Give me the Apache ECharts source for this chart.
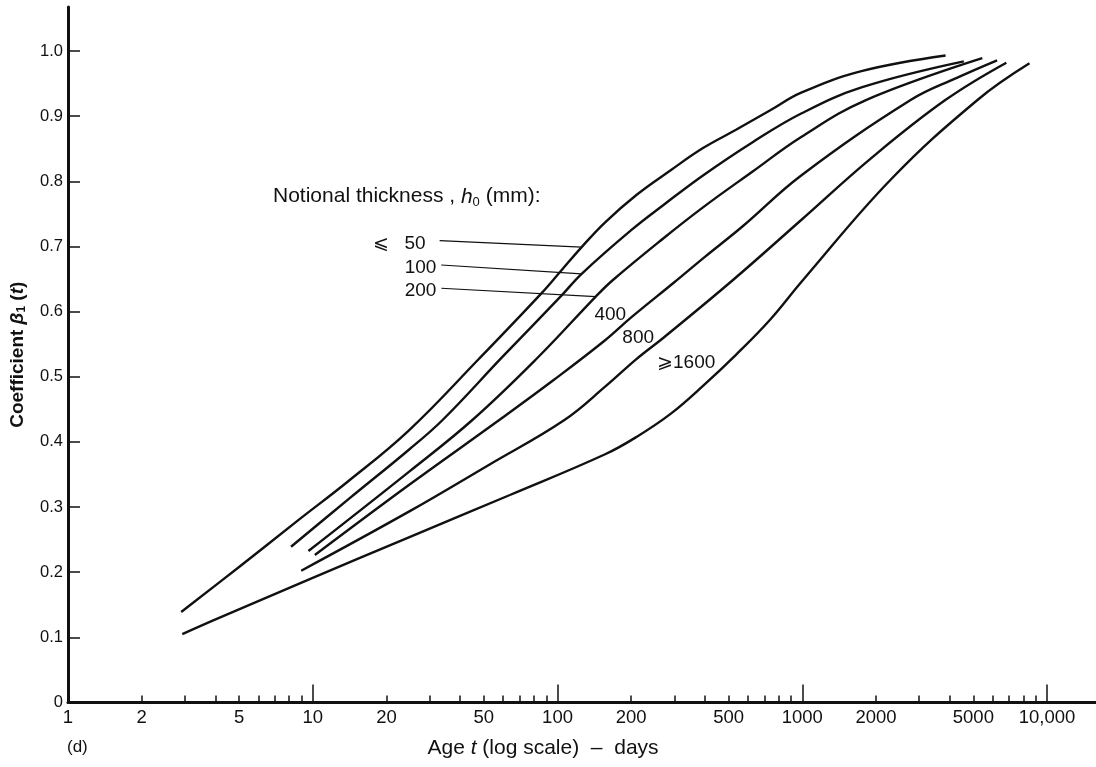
<!DOCTYPE html>
<html><head><meta charset="utf-8">
<script src="https://cdn.jsdelivr.net/npm/echarts@6/dist/echarts.min.js"></script>
<style>html,body{margin:0;padding:0;background:#fff}#c{width:1096px;height:767px}</style>
</head><body><div id="c"></div>
<script>
// ---- data (age t in days, coefficient beta1(t)) ----
const curveNames = ['⩽50', '100', '200', '400', '800', '⩾1600'];
const t50   = [2.9, 5, 8.6, 14, 24.6, 47.9, 85.9, 103, 125.5, 156.5, 210, 290, 393, 536, 740, 990, 1745, 3850];
const v50   = [0.139, 0.208, 0.278, 0.340, 0.417, 0.528, 0.628, 0.662, 0.699, 0.737, 0.779, 0.817, 0.851, 0.879, 0.909, 0.936, 0.969, 0.993];
const t100  = [8.15, 14.2, 24.7, 34, 59.4, 103.5, 125.5, 200, 271.8, 393, 627, 990, 1745, 4570];
const v100  = [0.239, 0.314, 0.388, 0.434, 0.530, 0.624, 0.658, 0.725, 0.764, 0.809, 0.860, 0.904, 0.944, 0.984];
const t200  = [9.6, 24.7, 45, 82.3, 143.3, 168.4, 271.8, 393, 627, 990, 1830, 5440];
const v200  = [0.2325, 0.354, 0.434, 0.528, 0.623, 0.6485, 0.713, 0.760, 0.815, 0.868, 0.925, 0.989];
const t400  = [10.2, 24.7, 57.8, 96.4, 156.5, 200, 300, 400, 571, 990, 2781, 4234, 6250];
const v400  = [0.2264, 0.3338, 0.4336, 0.495, 0.556, 0.591, 0.645, 0.684, 0.731, 0.809, 0.925, 0.958, 0.9857];
const t800  = [8.97, 24.7, 52.6, 106.7, 156.5, 210, 271.8, 521, 990, 1919, 3853, 6819];
const v800  = [0.2023, 0.2929, 0.365, 0.4336, 0.4847, 0.527, 0.5603, 0.6485, 0.7406, 0.836, 0.925, 0.982];
const t1600 = [2.93, 4.03, 9.83, 24.7, 63.9, 156.5, 211, 289.6, 393, 537, 737, 1007, 2311, 5197, 8477];
const v1600 = [0.105, 0.128, 0.19, 0.2536, 0.3185, 0.381, 0.408, 0.443, 0.486, 0.534, 0.5871, 0.6485, 0.8035, 0.9248, 0.981];

// ---- ticks ----
const xTickLabels = [1, 2, 5, 10, 20, 50, 100, 200, 500, 1000, 2000, 5000, 10000];
const xMinorTicks = [2,3,4,5,6,7,8,9, 20,30,40,50,60,70,80,90, 200,300,400,500,600,700,800,900, 2000,3000,4000,5000,6000,7000,8000,9000];
const xMajorTicks = [10, 100, 1000, 10000];
const yTicks = [0, 0.1, 0.2, 0.3, 0.4, 0.5, 0.6, 0.7, 0.8, 0.9, 1.0];

// ---- annotations (anchored in data coordinates) ----
const annoText  = ['Notional thickness , {i|h}{s|0} (mm):', '⩽   50', '100', '200', '400', '800', '⩾1600'];
const annoAt    = [[6.88, 0.7764], [28.9, 0.7048], [32.0, 0.668], [32.0, 0.632], [141.5, 0.5948], [184, 0.5605], [255, 0.5222]];
const annoAlign = ['left', 'right', 'right', 'right', 'left', 'left', 'left'];
const leaderFrom = [[33.0, 0.7088], [33.5, 0.6715], [33.5, 0.6358]];
const leaderTo   = [[125.5, 0.699], [125.5, 0.658], [143.3, 0.623]];

const FONT = '"Liberation Sans", Arial, Helvetica, sans-serif';
const INK = '#111';
const zip = (a, b) => a.map((x, i) => [x, b[i]]);
const curves = [[t50, v50], [t100, v100], [t200, v200], [t400, v400], [t800, v800], [t1600, v1600]];

const chart = echarts.init(document.getElementById('c'), null, {renderer: 'canvas'});

const lineSeries = curves.map((c, i) => ({
  name: curveNames[i], type: 'line', xAxisIndex: 0, yAxisIndex: 0,
  data: zip(c[0], c[1]), smooth: 0.4,
  showSymbol: false, symbol: 'none', silent: true,
  lineStyle: {color: INK, width: 2.4}
}));

chart.setOption({
  animation: false,
  backgroundColor: '#fff',
  textStyle: {fontFamily: FONT, color: INK},
  grid: {left: 68, right: 0, top: 7, bottom: 64.5, containLabel: false, outerBoundsMode: 'none'},
  xAxis: [{
    type: 'log', logBase: 10, min: 1, max: 15850,
    axisLine: {onZero: false, lineStyle: {color: INK, width: 3}},
    axisTick: {show: true, inside: true, length: 7, customValues: xMinorTicks, lineStyle: {color: INK, width: 1.5}},
    axisLabel: {customValues: xTickLabels, fontSize: 18.5, color: INK, margin: 6, fontFamily: FONT,
      formatter: v => { const r = Math.round(v); return r === 10000 ? '10,000' : String(r); }},
    splitLine: {show: false}, minorTick: {show: false},
    name: 'Age {i|t} (log scale)  –  days', nameLocation: 'middle', nameGap: 35,
    nameTextStyle: {fontSize: 21, color: INK, fontFamily: FONT, padding: [0, 78, 0, 0],
      rich: {i: {fontStyle: 'italic', fontSize: 21, fontFamily: FONT}}}
  }, {
    type: 'log', logBase: 10, min: 1, max: 15850, position: 'bottom', gridIndex: 0,
    axisLine: {show: false, onZero: false},
    axisTick: {show: true, inside: true, length: 18, customValues: xMajorTicks, lineStyle: {color: INK, width: 1.5}},
    axisLabel: {show: false}, splitLine: {show: false}
  }],
  yAxis: {
    type: 'value', min: 0, max: 1.0675,
    axisLine: {show: true, onZero: false, lineStyle: {color: INK, width: 3}},
    axisTick: {show: true, inside: true, length: 12, customValues: yTicks, lineStyle: {color: INK, width: 1.5}},
    axisLabel: {customValues: yTicks, fontSize: 16.5, color: INK, margin: 5, fontFamily: FONT,
      formatter: v => v === 0 ? '0' : v.toFixed(1)},
    splitLine: {show: false},
    name: '{t|Coefficient }{b|β}{s|1}{t| (}{b|t}{t|)}', nameLocation: 'middle', nameRotate: 90, nameGap: 40,
    nameTextStyle: {rich: {
      t: {fontSize: 19, fontWeight: 'bold', fontFamily: FONT, color: INK},
      b: {fontSize: 19, fontWeight: 'bold', fontStyle: 'italic', fontFamily: FONT, color: INK},
      s: {fontSize: 12, fontWeight: 'bold', fontFamily: FONT, color: INK, padding: [8, 0, 0, 0]}
    }}
  },
  graphic: [{
    type: 'text', left: 67, top: 739,
    style: {text: '(d)', font: '17px ' + FONT, fill: INK}
  }],
  series: lineSeries.concat([{
    type: 'lines', coordinateSystem: 'cartesian2d', xAxisIndex: 0, yAxisIndex: 0, silent: true,
    data: leaderFrom.map((f, i) => ({coords: [f, leaderTo[i]]})),
    lineStyle: {color: INK, width: 1.2, opacity: 1}, symbol: ['none', 'none']
  }, {
    type: 'custom', coordinateSystem: 'cartesian2d', xAxisIndex: 0, yAxisIndex: 0, silent: true,
    data: annoAt, encode: {x: 0, y: 1},
    renderItem: (params, api) => {
      const p = api.coord([api.value(0), api.value(1)]);
      const big = params.dataIndex === 0;
      return {
        type: 'text', x: p[0], y: p[1],
        style: {
          text: annoText[params.dataIndex], fill: INK,
          font: (big ? '21px ' : '19px ') + FONT, align: annoAlign[params.dataIndex], verticalAlign: 'middle',
          rich: {
            i: {fontStyle: 'italic', fontSize: 21, fontFamily: FONT, fill: INK},
            s: {fontSize: 13, fontFamily: FONT, fill: INK, padding: [11, 0, 0, 0]}
          }
        }
      };
    }
  }])
});
</script>
</body></html>
